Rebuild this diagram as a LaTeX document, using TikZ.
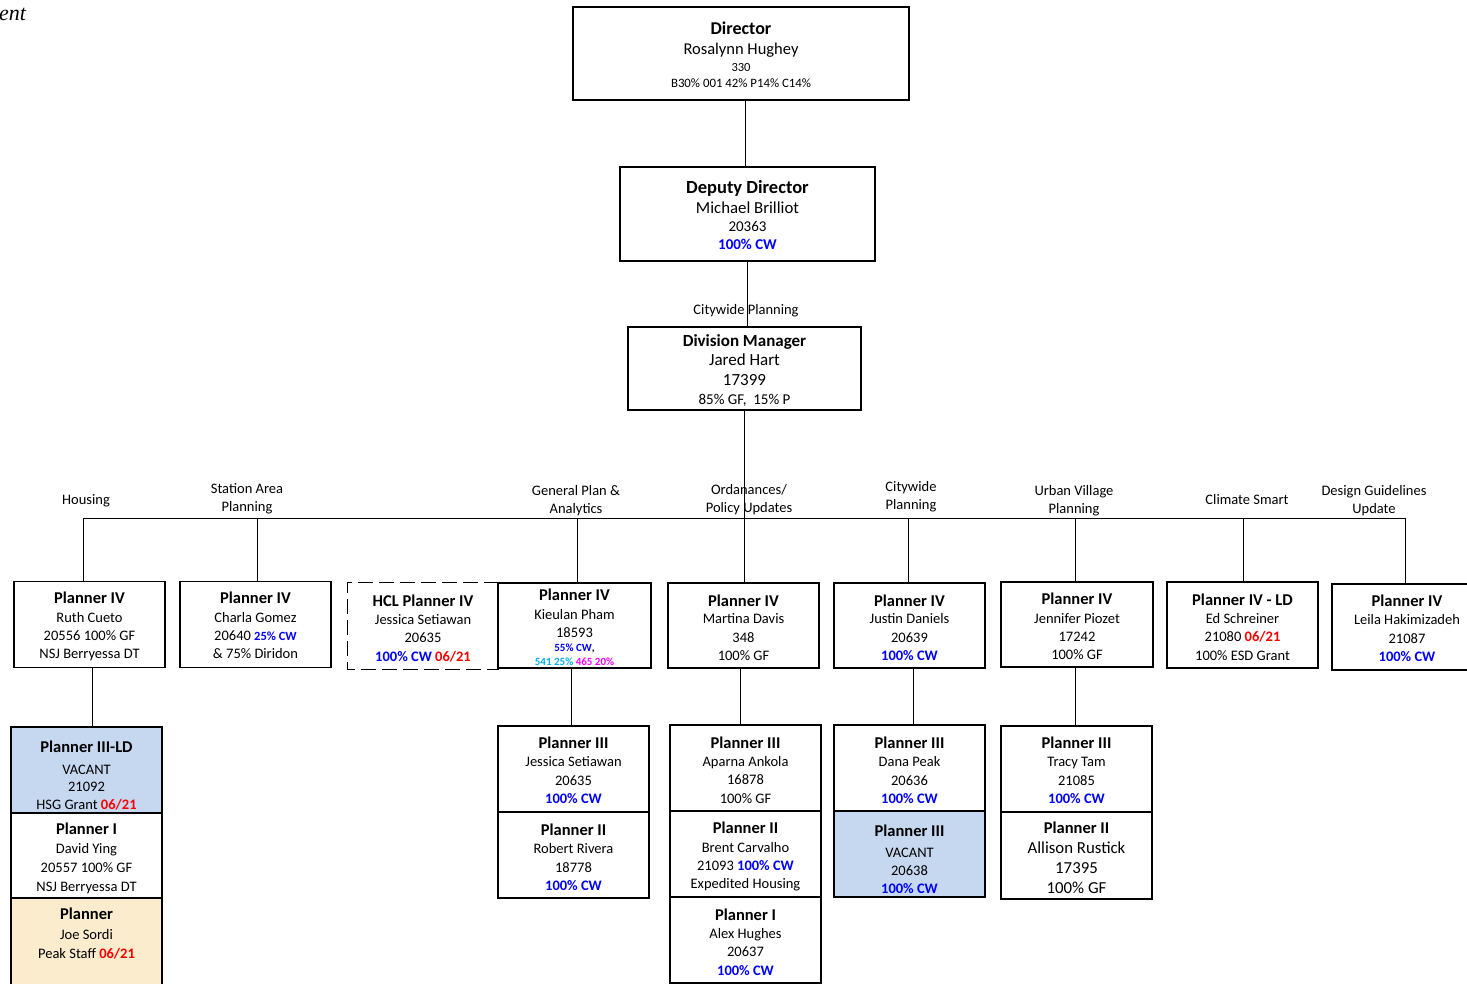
\documentclass[tikz,border=0pt]{standalone}
\usepackage{fontspec}
\setmainfont{Carlito}
\newfontfamily\entfont{Liberation Serif}
\definecolor{cwblue}{RGB}{0,0,255}
\definecolor{dred}{RGB}{255,0,0}
\definecolor{ccyan}{RGB}{0,176,240}
\definecolor{cmag}{RGB}{255,0,255}
\definecolor{vacblue}{RGB}{198,216,239}
\definecolor{peach}{RGB}{250,236,205}
\newcommand\ttl[2][16pt]{\rule{0pt}{#1}{\fontsize{16.5}{18}\selectfont\bfseries #2}}
\newcommand\cw[1]{\textcolor{cwblue}{\bfseries #1}}
\newcommand\rdt[1]{\textcolor{dred}{\bfseries #1}}
\tikzset{
  orgbox/.style={draw, line width=1.1pt, rectangle, inner sep=0pt, align=center,
    minimum width=151pt, minimum height=86pt,
    font={\fontsize{14.5}{18.3}\selectfont\lineskiplimit=-30pt}},
  conn/.style={draw, line width=0.9pt},
  hdr/.style={align=center, inner sep=0pt,
    font={\fontsize{14.5}{18}\selectfont\lineskiplimit=-30pt}},
}
\begin{document}
\begin{tikzpicture}[x=1pt,y=-1pt]
\useasboundingbox (0,0) rectangle (1467,984);
\clip (0,0) rectangle (1467,984);
\fill[white] (0,0) rectangle (1467,984);

\node[anchor=base west, inner sep=0pt, font={\entfont\itshape\fontsize{22}{26}\selectfont}] (ent) at (-1,21) {ent};

% top chain
\node[orgbox, minimum width=336pt, minimum height=93pt,
  font={\fontsize{13}{16}\selectfont\lineskiplimit=-30pt}] (dir) at (741,53.5)
  {\rule{0pt}{15pt}{\fontsize{18}{20}\selectfont\bfseries Director}\\[4pt]{\fontsize{16.5}{18}\selectfont Rosalynn Hughey}\\[0.4pt]{\fontsize{12.5}{15}\selectfont 330}\\{\fontsize{12.8}{15}\selectfont B30\% 001 42\% P14\% C14\%}};
\node[orgbox, minimum width=255pt, minimum height=94pt,
  font={\fontsize{15}{18}\selectfont\lineskiplimit=-30pt}] (dep) at (747.5,214)
  {\rule{0pt}{15.5pt}{\fontsize{18.5}{20}\selectfont\bfseries Deputy Director}\\[2.4pt]{\fontsize{16.8}{19}\selectfont Michael Brilliot}\\20363\\\cw{100\% CW}};
\node[hdr] (cwlab) at (746,311) {Citywide Planning};
\node[orgbox, minimum width=233pt, minimum height=83pt,
  font={\fontsize{17}{19.5}\selectfont\lineskiplimit=-30pt}] (div) at (744.5,368.5)
  {\rule{0pt}{16pt}{\bfseries Division Manager}\\Jared Hart\\17399\\{\fontsize{15}{18}\selectfont 85\% GF,\ \ 15\% P}};

% headers
\node[hdr] (hHou) at (86,501) {Housing};
\node[hdr] (hSta) at (247,499) {Station Area\\Planning};
\node[hdr] (hGen) at (576,501) {General Plan \&\\Analytics};
\node[hdr] (hOrd) at (749,500) {Ordanances/\\Policy Updates};
\node[hdr] (hCit) at (911,497) {Citywide\\Planning};
\node[hdr] (hUrb) at (1074,501) {Urban Village\\Planning};
\node[hdr] (hCli) at (1247,500) {Climate Smart};
\node[hdr] (hDes) at (1374,501) {Design Guidelines\\Update};

% Planner IV row
\node[orgbox] (ruth) at (89.5,624.5) {\ttl{Planner IV}\\Ruth Cueto\\20556 100\% GF\\NSJ Berryessa DT};
\node[orgbox] (charla) at (255.5,624.5) {\ttl[14pt]{Planner IV}\\Charla Gomez\\20640 {\fontsize{12.5}{15}\selectfont\cw{25\% CW}}\\\& 75\% Diridon};
\node[orgbox, draw=none, minimum width=150pt] (hcl) at (423,626) {\ttl{HCL Planner IV}\\Jessica Setiawan\\20635\\\cw{100\% CW} \rdt{06/21}};
\draw[line width=1.1pt, dash pattern=on 15pt off 6pt] (hcl.north east) -- (hcl.north west) -- (hcl.south west) -- (hcl.south east);
\node[orgbox, minimum width=153pt, minimum height=85pt] (kieu) at (574.5,625.5) {\ttl[15pt]{Planner IV}\\Kieulan Pham\\18593\\[-4.4pt]{\fontsize{11}{12}\selectfont\cw{55\% CW}{\bfseries,}}\\[-4.4pt]{\fontsize{11}{12}\selectfont\bfseries\textcolor{ccyan}{541 25\%} \textcolor{cmag}{465 20\%}}};
\node[orgbox, minimum height=85pt] (mart) at (743.5,625.5) {\ttl{Planner IV}\\[-1pt]Martina Davis\\348\\100\% GF};
\node[orgbox, minimum height=85pt] (just) at (909.5,625.5) {\ttl{Planner IV}\\[-1pt]Justin Daniels\\20639\\\cw{100\% CW}};
\node[orgbox, minimum width=152pt, minimum height=85pt] (jenn) at (1077,624.5) {\ttl{Planner IV}\\Jennifer Piozet\\17242\\100\% GF};
\node[orgbox] (ed) at (1242.5,625) {\ttl{Planner IV - LD}\\[-0.5pt]Ed Schreiner\\21080 \rdt{06/21}\\100\% ESD Grant};
\node[orgbox, minimum width=150pt] (leila) at (1407,627) {\ttl[14pt]{Planner IV}\\Leila Hakimizadeh\\21087\\\cw{100\% CW}};

% second level
\node[orgbox, fill=vacblue] (p3ld) at (86.5,770) {\ttl[23pt]{Planner III-LD}\\[3pt]VACANT\\[-1.3pt]21092\\HSG Grant \rdt{06/21}};
\node[orgbox, minimum height=85pt, font={\fontsize{14.5}{19}\selectfont\lineskiplimit=-30pt}] (david) at (86.5,855.5) {\ttl[17pt]{Planner I}\\[-0.5pt]David Ying\\20557 100\% GF\\NSJ Berryessa DT};
\node[orgbox, fill=peach, minimum height=92pt, font={\fontsize{14.5}{18.5}\selectfont\lineskiplimit=-30pt}] (sordi) at (86.5,944) {\ttl{Planner}\\[1.5pt]Joe Sordi\\Peak Staff \rdt{06/21}\\[7.5pt]\mbox{}};

\node[orgbox] (js3) at (573.5,769) {\ttl[14pt]{Planner III}\\Jessica Setiawan\\20635\\\cw{100\% CW}};
\node[orgbox] (rr2) at (573.5,855) {\ttl{Planner II}\\Robert Rivera\\18778\\\cw{100\% CW}};

\node[orgbox] (aa3) at (745.5,768) {\ttl{Planner III}\\[-0.5pt]Aparna Ankola\\16878\\100\% GF};
\node[orgbox] (bc2) at (745.5,854) {\ttl[17pt]{Planner II}\\Brent Carvalho\\21093 \cw{100\% CW}\\Expedited Housing};
\node[orgbox] (ah1) at (745.5,940) {\ttl{Planner I}\\[-0.5pt]Alex Hughes\\20637\\\cw{100\% CW}};

\node[orgbox] (dp3) at (909.5,768) {\ttl{Planner III}\\Dana Peak\\20636\\\cw{100\% CW}};
\node[orgbox, fill=vacblue] (vac3) at (909.5,854) {\ttl[22pt]{Planner III}\\[2.5pt]VACANT\\20638\\\cw{100\% CW}};

\node[orgbox] (tt3) at (1076.5,769) {\ttl[14pt]{Planner III}\\Tracy Tam\\21085\\\cw{100\% CW}};
\node[orgbox, minimum height=87pt, font={\fontsize{16.8}{20}\selectfont\lineskiplimit=-30pt}] (ar2) at (1076.5,855.5) {\ttl{Planner II}\\Allison Rustick\\17395\\100\% GF};

% connectors
\draw[conn] ([xshift=-2.5pt]dep.north) -- ([xshift=-2.5pt]dep.north |- dir.south);
\draw[conn] (dep.south) -- (dep.south |- div.north);
\draw[conn] (div.south) -- (div.south |- mart.north);
\coordinate (b1) at (83,518);
\coordinate (b2) at (257,518);
\coordinate (b3) at (577,518);
\coordinate (b6) at (908,518);
\coordinate (b7) at (1075,518);
\coordinate (b8) at (1243,518);
\coordinate (b9) at (1405,518);
\draw[conn] (b1) -- (b9);
\draw[conn] (b1) -- (b1 |- ruth.north);
\draw[conn] (b2) -- (b2 |- charla.north);
\draw[conn] (b3) -- (b3 |- kieu.north);
\draw[conn] (b6) -- (b6 |- just.north);
\draw[conn] (b7) -- (b7 |- jenn.north);
\draw[conn] (b8) -- (b8 |- ed.north);
\draw[conn] (b9) -- (b9 |- leila.north);
\draw[conn] ([xshift=2.5pt]ruth.south) -- ([xshift=2.5pt]ruth.south |- p3ld.north);
\draw[conn] ([xshift=-3.5pt]kieu.south) -- ([xshift=-3.5pt]kieu.south |- js3.north);
\draw[conn] ([xshift=-3.5pt]mart.south) -- ([xshift=-3.5pt]mart.south |- aa3.north);
\draw[conn] ([xshift=3.5pt]just.south) -- ([xshift=3.5pt]just.south |- dp3.north);
\draw[conn] ([xshift=-2pt]jenn.south) -- ([xshift=-2pt]jenn.south |- tt3.north);
\end{tikzpicture}
\end{document}
